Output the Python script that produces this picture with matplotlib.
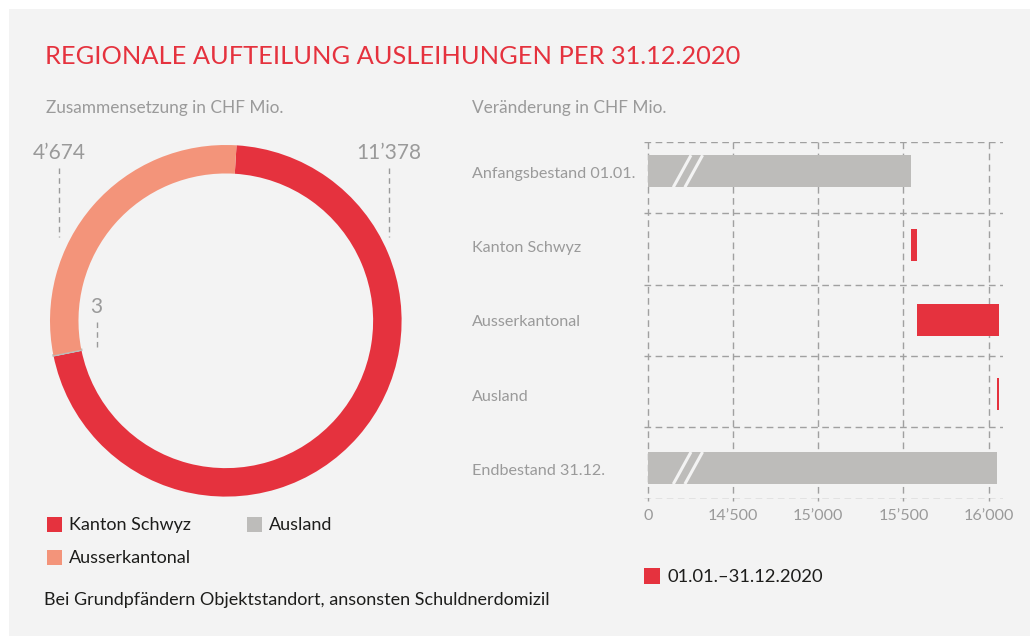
import matplotlib
matplotlib.use("Agg")
import matplotlib.pyplot as plt
from matplotlib.patches import Rectangle
from matplotlib.transforms import blended_transform_factory

plt.rcParams['font.family'] = ['Lato', 'DejaVu Sans']

# --- Data ---
donut_labels = ['Kanton Schwyz', 'Ausland', 'Ausserkantonal']
donut_values = [11378, 3, 4674]
donut_texts = ['11\u2019378', '3', '4\u2019674']

bar_labels = ['Anfangsbestand 01.01.', 'Kanton Schwyz', 'Ausserkantonal', 'Ausland', 'Endbestand 31.12.']
start_value = 15543
changes = [35, 480, -11]          # Kanton Schwyz, Ausserkantonal, Ausland
end_value = 16047
tick_values = [14000, 14500, 15000, 15500, 16000]
tick_labels = ['0', '14\u2019500', '15\u2019000', '15\u2019500', '16\u2019000']
axis_break = 14000                 # 0 is drawn at this position

RED = '#e5323e'
SALMON = '#f3947a'
GREY = '#bdbcba'
TXT_GREY = '#9a9a9a'
DARK = '#1d1d1b'
BG = '#f3f3f3'
GRID = '#a0a0a0'

W, H = 1030, 636
fig = plt.figure(figsize=(W / 100, H / 100), dpi=100, facecolor='white')
fig.patches.append(Rectangle((9 / W, 0), 1 - 9 / W, 1 - 9 / H, transform=fig.transFigure,
                             facecolor=BG, edgecolor='none', zorder=-10))

def fx(px):
    return px / W

def fy(py):
    return 1 - py / H

# --- Headings ---
fig.text(fx(45), fy(57), 'REGIONALE AUFTEILUNG AUSLEIHUNGEN PER 31.12.2020',
         color=RED, fontsize=18.3, va='center', ha='left')
fig.text(fx(46), fy(108), 'Zusammensetzung in CHF Mio.', color=TXT_GREY, fontsize=12.4, va='center')
fig.text(fx(472), fy(108), 'Ver\u00e4nderung in CHF Mio.', color=TXT_GREY, fontsize=12.4, va='center')

# --- Donut ---
cx, cy, r = 225.8, 320.8, 175.8
axd = fig.add_axes([fx(cx - r), fy(cy + r), 2 * r / W, 2 * r / H])
wedges, _ = axd.pie(donut_values, colors=[RED, GREY, SALMON], startangle=86.5,
                    counterclock=False, radius=1,
                    wedgeprops=dict(width=0.162, edgecolor='none'))
wedges[1].set_edgecolor(GREY)
wedges[1].set_linewidth(1.6)
axd.set_xlim(-1, 1)
axd.set_ylim(-1, 1)
axd.set_aspect('auto')
axd.axis('off')

def dpos(px, py):
    return (px - cx) / r, (cy - py) / r

label_spots = [(389, 153, 168, 237), (96.7, 307, 322, 349), (59, 153, 168, 237)]
for txt, (px, py, l0, l1) in zip(donut_texts, label_spots):
    x, y = dpos(px, py)
    axd.text(x, y, txt, color=TXT_GREY, fontsize=15, ha='center', va='center')
    _, y0 = dpos(px, l0)
    _, y1 = dpos(px, l1)
    axd.plot([x, x], [y0, y1], color=TXT_GREY, lw=1, linestyle=(0, (4, 3)), clip_on=False)

# --- Donut legend ---
legend_spots = [(47, 524), (247, 524), (47, 557)]
for (px, py), lab, col in zip(legend_spots, ['Kanton Schwyz', 'Ausland', 'Ausserkantonal'],
                              [RED, GREY, SALMON]):
    fig.patches.append(Rectangle((fx(px), fy(py + 7.5)), 15 / W, 15 / H,
                                 transform=fig.transFigure, facecolor=col, edgecolor='none'))
    fig.text(fx(px + 22), fy(py + 1), lab, color=DARK, fontsize=13, va='center')

fig.text(fx(44), fy(600), 'Bei Grundpf\u00e4ndern Objektstandort, ansonsten Schuldnerdomizil',
         color=DARK, fontsize=13.0, va='center')

# --- Waterfall bars ---
x0, x1 = 644, 1003
px_per = 85.25 / 500
xmin = axis_break - (647.7 - x0) / px_per
xmax = axis_break + (x1 - 647.7) / px_per
top, bottom = 142, 498.7
axb = fig.add_axes([fx(x0), fy(bottom), (x1 - x0) / W, (bottom - top) / H])
axb.set_xlim(xmin, xmax)
axb.set_ylim(5, 0)
axb.axis('off')

dash = (0, (4.8, 3.2))
for k in range(6):
    axb.plot([xmin, xmax], [k, k], color=GRID, lw=1, linestyle=dash, zorder=1)
for tv in tick_values:
    axb.plot([tv, tv], [0, 5.03], color=GRID, lw=1, linestyle=dash, zorder=1, clip_on=False)

pos = [0.41 + 1.04 * i for i in range(len(bar_labels))]
bh = 0.45

axb.barh(pos[0], start_value - axis_break, left=axis_break, height=bh, color=GREY, zorder=2)
running = start_value
for i, ch in enumerate(changes):
    axb.barh(pos[i + 1], ch, left=running, height=bh, color=RED, zorder=2)
    running += ch
axb.barh(pos[4], end_value - axis_break, left=axis_break, height=bh, color=GREY, zorder=2)

# axis break marks on the two totals
for p in (pos[0], pos[4]):
    for off in (0, 68):
        axb.plot([axis_break + 150 + off, axis_break + 254 + off], [p + bh / 2, p - bh / 2],
                 color=BG, lw=2.2, zorder=3, solid_capstyle='butt')

tr = blended_transform_factory(fig.transFigure, axb.transData)
for p, lab in zip(pos, bar_labels):
    axb.text(fx(472), p + 0.04, lab, transform=tr, color=TXT_GREY, fontsize=11.6, va='center')

for tv, tl in zip(tick_values, tick_labels):
    axb.text(tv, 5 + 0.24, tl, color=TXT_GREY, fontsize=11.6, ha='center', va='center')

# --- Right legend ---
fig.patches.append(Rectangle((fx(644), fy(584)), 16 / W, 16 / H, transform=fig.transFigure,
                             facecolor=RED, edgecolor='none'))
fig.text(fx(668), fy(577), '01.01.\u201331.12.2020', color=DARK, fontsize=13.2, va='center')

fig.savefig('out.png', dpi=100, facecolor=fig.get_facecolor())
